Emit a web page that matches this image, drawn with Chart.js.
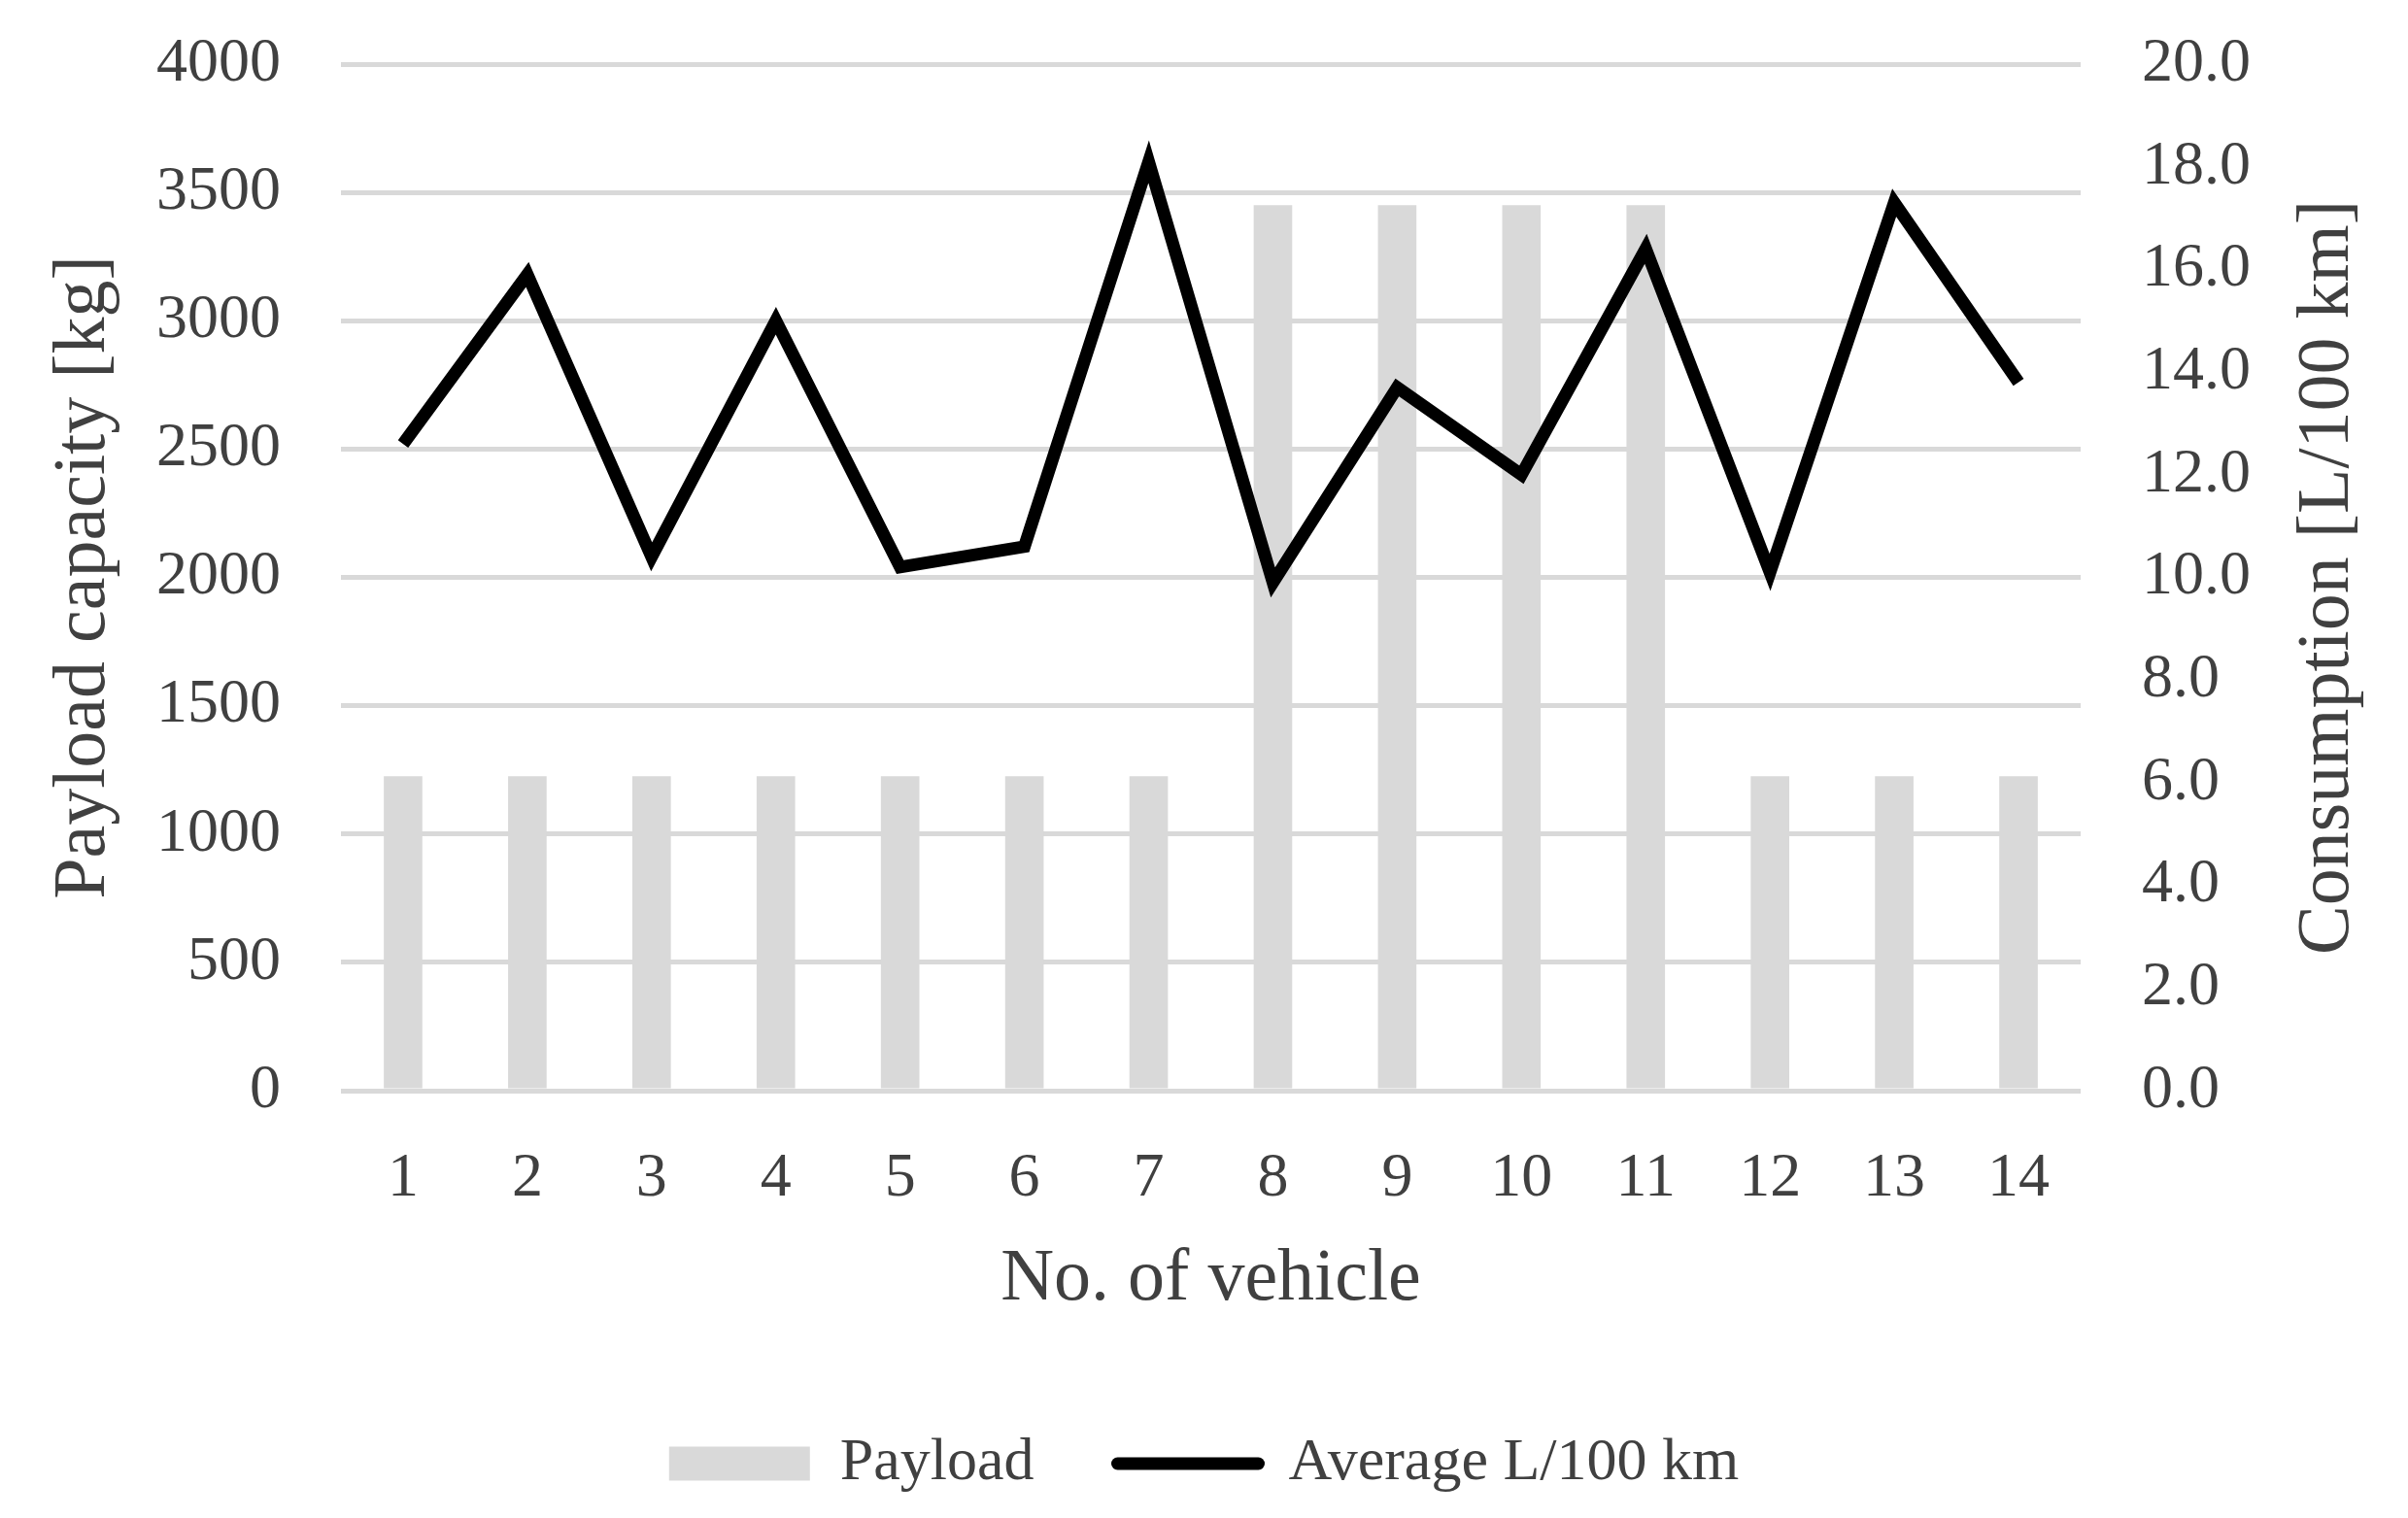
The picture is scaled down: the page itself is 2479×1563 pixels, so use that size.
<!DOCTYPE html>
<html>
<head>
<meta charset="utf-8">
<title>Payload and consumption</title>
<script src="https://cdn.jsdelivr.net/npm/chart.js@4/dist/chart.umd.min.js"></script>
<style>
    body { margin: 0; background: #ffffff; }
    canvas { display: block; }
</style>
</head>
<body>
<canvas id="vehicleChart" width="2479" height="1563"></canvas>
<script>
// values
const vehicles = ['1', '2', '3', '4', '5', '6', '7', '8', '9', '10', '11', '12', '13', '14']
const payload = [1225, 1225, 1225, 1225, 1225, 1225, 1225, 3450, 3450, 3450, 3450, 1225, 1225, 1225]
const avgConsumption = [12.6, 15.9, 10.4, 15.0, 10.2, 10.6, 18.1, 9.9, 13.7, 12.0, 16.4, 10.1, 17.3, 13.8]

const payloadTicks = { min: 0, max: 4000, step: 500 }
const consumptionTicks = { min: 0, max: 20, step: 2 }

const xTitle = 'No. of vehicle'
const leftTitle = 'Payload capacity [kg]'
const rightTitle = 'Consumption [L/100 km]'
const payloadLabel = 'Payload'
const consumptionLabel = 'Average L/100 km'

const textColor = '#404040'
const gridColor = '#d9d9d9'
const barColor = '#d9d9d9'
const fontFamily = '"Liberation Serif", "DejaVu Serif", serif'

// chart.js draws right axis titles top-to-bottom, this one reads bottom-to-top
const rightTitlePlugin = {
    id: 'rightTitle',
    afterDraw (chart) {
        const { ctx, chartArea } = chart
        const scale = chart.scales.y2
        ctx.save()
        ctx.translate(scale.right - 82, (chartArea.top + chartArea.bottom) / 2)
        ctx.rotate(-Math.PI / 2)
        ctx.font = `76px ${fontFamily}`
        ctx.fillStyle = textColor
        ctx.textAlign = 'center'
        ctx.textBaseline = 'middle'
        ctx.fillText(rightTitle, 0, 0)
        ctx.restore()
    }
}

// fixed axis widths, and no extra label padding pushing the plot down
const fixWidth = (width) => (scale) => {
    scale.width = width
    scale.paddingTop = 0
    scale.paddingBottom = 0
}

const ctx = document.getElementById('vehicleChart')

new Chart(ctx, {
    type: 'bar',
    data: {
        labels: vehicles,
        datasets: [
            {
                type: 'line',
                label: consumptionLabel,
                data: avgConsumption,
                yAxisID: 'y2',
                borderColor: '#000000',
                borderWidth: 13,
                borderJoinStyle: 'miter',
                pointRadius: 0,
                tension: 0,
                fill: false
            },
            {
                type: 'bar',
                label: payloadLabel,
                data: payload,
                yAxisID: 'y',
                backgroundColor: barColor,
                barPercentage: 0.31,
                categoryPercentage: 1
            }
        ]
    },
    options: {
        responsive: false,
        animation: false,
        layout: {
            padding: { top: 66, right: 0, bottom: 15, left: 0 }
        },
        plugins: {
            tooltip: { enabled: false },
            legend: {
                position: 'bottom',
                labels: {
                    usePointStyle: true,
                    pointStyleWidth: 145,
                    boxHeight: 35,
                    padding: 86,
                    color: textColor,
                    font: { family: fontFamily, size: 62 },
                    generateLabels: () => [
                        {
                            text: payloadLabel,
                            fillStyle: barColor,
                            strokeStyle: barColor,
                            lineWidth: 0,
                            pointStyle: 'rect',
                            fontColor: textColor,
                            datasetIndex: 1,
                            hidden: false
                        },
                        {
                            text: consumptionLabel,
                            fillStyle: 'rgba(0,0,0,0)',
                            strokeStyle: '#000000',
                            lineWidth: 13,
                            lineCap: 'round',
                            pointStyle: 'line',
                            fontColor: textColor,
                            datasetIndex: 0,
                            hidden: false
                        }
                    ]
                }
            }
        },
        scales: {
            x: {
                grid: { display: false },
                border: { display: false },
                ticks: {
                    color: textColor,
                    padding: 45,
                    maxRotation: 0,
                    font: { family: fontFamily, size: 64 }
                },
                title: {
                    display: true,
                    text: xTitle,
                    color: textColor,
                    padding: { top: 0, bottom: 26 },
                    font: { family: fontFamily, size: 76 }
                },
                afterFit: (scale) => { scale.height = 267 }
            },
            y: {
                position: 'left',
                min: payloadTicks.min,
                max: payloadTicks.max,
                grid: { color: gridColor, lineWidth: 5, drawTicks: false },
                border: { display: false },
                ticks: {
                    stepSize: payloadTicks.step,
                    color: textColor,
                    padding: 62,
                    font: { family: fontFamily, size: 64 },
                    callback: (value) => String(value)
                },
                title: {
                    display: true,
                    text: leftTitle,
                    color: textColor,
                    padding: { top: 41, bottom: 0 },
                    font: { family: fontFamily, size: 76 }
                },
                afterFit: fixWidth(351)
            },
            y2: {
                position: 'right',
                min: consumptionTicks.min,
                max: consumptionTicks.max,
                grid: { display: false, drawTicks: false },
                border: { display: false },
                ticks: {
                    stepSize: consumptionTicks.step,
                    color: textColor,
                    padding: 63,
                    font: { family: fontFamily, size: 64 },
                    callback: (value) => value.toFixed(1)
                },
                afterFit: fixWidth(337)
            }
        }
    },
    plugins: [rightTitlePlugin]
})
</script>
</body>
</html>
